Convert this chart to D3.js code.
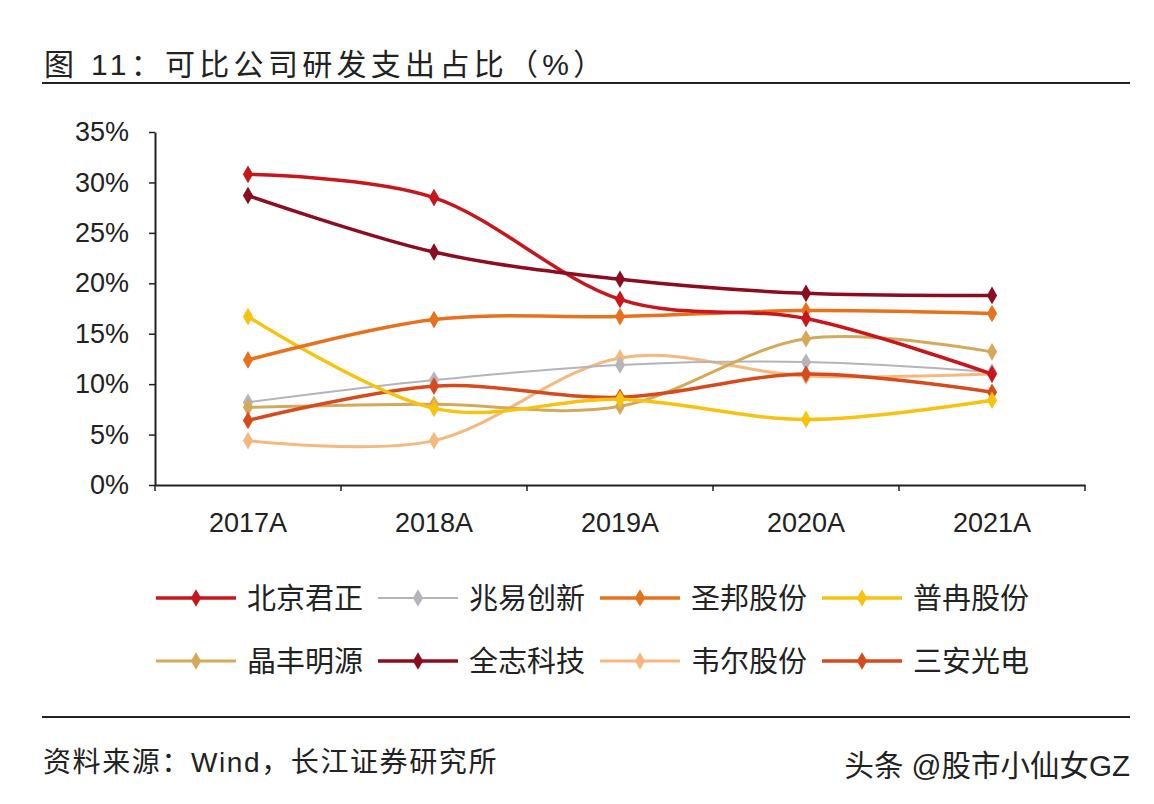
<!DOCTYPE html>
<html><head><meta charset="utf-8">
<script src="https://cdn.jsdelivr.net/npm/d3@7"></script>
<style>body{margin:0;background:#fff}svg{display:block}text{font-family:"Liberation Sans","Noto Sans CJK SC",sans-serif}</style>
</head><body><svg id="c" width="1154" height="804"></svg>
<script>
const categories = ["2017A","2018A","2019A","2020A","2021A"];
const seriesNames = ["北京君正","兆易创新","圣邦股份","普冉股份","晶丰明源","全志科技","韦尔股份","三安光电"];
const bjjz = [30.8, 28.5, 18.4, 16.5, 11.0];
const zycx = [8.2, 10.4, 11.9, 12.2, 11.2];
const sbgf = [12.4, 16.4, 16.7, 17.3, 17.0];
const prgf = [16.7, 7.6, 8.5, 6.5, 8.4];
const jfmy = [7.7, 8.0, 7.8, 14.5, 13.2];
const qzkj = [28.7, 23.1, 20.4, 19.0, 18.8];
const wegf = [4.4, 4.4, 12.6, 10.8, 11.0];
const sagd = [6.4, 9.8, 8.7, 11.0, 9.2];
const yTicks = [0,5,10,15,20,25,30,35];
const colors = ["#c8161d","#b4b4ba","#e8711c","#f8c210","#d4aa5a","#8c0c20","#f5b87e","#d64a1c"];
const widths = [3.5,2,3.5,3.5,3,3.5,3,3.5];
const values = [bjjz,zycx,sbgf,prgf,jfmy,qzkj,wegf,sagd];
const order = [6,1,4,7,3,2,0,5];

const svg = d3.select("#c");
const L=155,R=1085,T=132,B=485;
const x = d3.scaleBand().domain(categories).range([L,R]).padding(0);
const y = d3.scaleLinear().domain([0,35]).range([B,T]);

svg.append("text").attr("x",44).attr("y",75).attr("font-size",30).attr("fill","#222").attr("letter-spacing",4.3).text("图  11：可比公司研发支出占比（%）");
svg.append("line").attr("x1",42).attr("x2",1130).attr("y1",83).attr("y2",83).attr("stroke","#222").attr("stroke-width",2);

const yAxis = d3.axisLeft(y).tickValues(yTicks).tickFormat(d=>d+"%").tickSize(6).tickSizeOuter(0);
const gy = svg.append("g").attr("transform",`translate(${L},0)`).call(yAxis);
gy.selectAll("text").attr("font-size",27).attr("fill","#222").attr("x",-26);
gy.select(".domain").attr("stroke","#222").attr("stroke-width",2);
gy.selectAll(".tick line").attr("stroke","#222").attr("stroke-width",1.5);

const xAxis = d3.axisBottom(x).tickSize(0).tickSizeOuter(0);
const gx = svg.append("g").attr("transform",`translate(0,${B})`).call(xAxis);
gx.selectAll("text").attr("font-size",27).attr("fill","#222").attr("dy","0").attr("y",47);
gx.select(".domain").attr("stroke","#222").attr("stroke-width",2);
const bounds = categories.map(c=>x(c)).concat([R]);
gx.selectAll(".bt").data(bounds).enter().append("line").attr("x1",d=>d).attr("x2",d=>d).attr("y1",0).attr("y2",6).attr("stroke","#222").attr("stroke-width",1.5);

const line = d3.line().x((d,i)=>x(categories[i])+x.bandwidth()/2).y(d=>y(d)).curve(d3.curveCardinal.tension(0));
const diamond = d3.symbol().type(d3.symbolDiamond).size(90);

order.forEach(k=>{
  const g = svg.append("g");
  g.append("path").attr("d",line(values[k])).attr("fill","none").attr("stroke",colors[k]).attr("stroke-width",widths[k]).attr("stroke-linecap","round");
  g.selectAll("path.m").data(values[k]).enter().append("path").attr("class","m")
    .attr("d",diamond).attr("fill",colors[k])
    .attr("transform",(d,i)=>`translate(${x(categories[i])+x.bandwidth()/2},${y(d)})`);
});

const legX = [156,378,600,822];
const legY = [598,661];
seriesNames.forEach((n,k)=>{
  const cx = legX[k%4], cy = legY[Math.floor(k/4)];
  const g = svg.append("g").attr("transform",`translate(${cx},${cy})`);
  g.append("line").attr("x1",0).attr("x2",80).attr("y1",0).attr("y2",0).attr("stroke",colors[k]).attr("stroke-width",widths[k]);
  g.append("path").attr("d",diamond).attr("fill",colors[k]).attr("transform","translate(40,0)");
  g.append("text").attr("x",91).attr("y",11).attr("font-size",29).attr("fill","#222").text(n);
});

svg.append("line").attr("x1",42).attr("x2",1130).attr("y1",717).attr("y2",717).attr("stroke","#222").attr("stroke-width",2);
svg.append("text").attr("x",43).attr("y",772).attr("font-size",28).attr("letter-spacing",1.6).attr("fill","#222").text("资料来源：Wind，长江证券研究所");
svg.append("text").attr("x",1130).attr("y",776).attr("text-anchor","end").attr("font-size",29.5).attr("fill","#222").text("头条 @股市小仙女GZ");
</script></body></html>
